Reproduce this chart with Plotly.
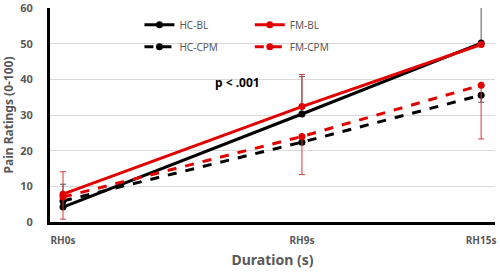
import plotly.graph_objects as go

categories = ["RH0s", "RH9s", "RH15s"]
x_pos = [0, 1, 1.75]  # horizontal placement of the three categories

hc_bl = [4.2, 30.3, 50.2]
fm_bl = [7.8, 32.4, 49.8]
hc_cpm = [5.9, 22.4, 35.6]
fm_cpm = [7.0, 24.0, 38.4]

hc_bl_plus = [6.4, 10.5, 15.0]
fm_bl_plus = [6.3, 9.0, 0.5]
hc_cpm_minus = [0.5, 0.5, 2.0]
fm_cpm_minus = [6.2, 10.7, 15.1]

y_ticks = [0, 10, 20, 30, 40, 50, 60]

BLACK = "#000000"
RED = "#e00000"
ERR_BLACK = "#555555"
ERR_RED = "#d23c3c"

fig = go.Figure()

def add(name, y, color, dash, legend, err_plus=None, err_minus=None, err_color=None):
    ey = None
    if err_plus is not None:
        ey = dict(type="data", symmetric=False, array=err_plus, arrayminus=[0] * len(y),
                  color=err_color, thickness=1, width=3)
    if err_minus is not None:
        ey = dict(type="data", symmetric=False, array=[0] * len(y), arrayminus=err_minus,
                  color=err_color, thickness=1, width=3)
    fig.add_trace(go.Scatter(
        x=x_pos, y=y, name=name, mode="lines+markers",
        line=dict(color=color, width=3, dash=dash),
        marker=dict(color=color, size=7, symbol="circle"),
        error_y=ey, legend=legend, legendgroup=name, cliponaxis=True,
    ))

add("HC-BL", hc_bl, BLACK, "solid", "legend", err_plus=hc_bl_plus, err_color=ERR_BLACK)
add("HC-CPM", hc_cpm, BLACK, "dash", "legend", err_minus=hc_cpm_minus, err_color=ERR_BLACK)
add("FM-BL", fm_bl, RED, "solid", "legend2", err_plus=fm_bl_plus, err_color=ERR_RED)
add("FM-CPM", fm_cpm, RED, "dash", "legend2", err_minus=fm_cpm_minus, err_color=ERR_RED)

FONT = "Noto Sans"
GRAY = "#595959"

legend_style = dict(
    bgcolor="rgba(0,0,0,0)", font=dict(family=FONT, size=10, color=GRAY),
    traceorder="grouped", tracegroupgap=3, yanchor="top", xanchor="left",
    itemwidth=30,
)

fig.update_layout(
    width=500, height=274,
    margin=dict(l=50, r=5, t=8, b=52),
    paper_bgcolor="white", plot_bgcolor="white",
    showlegend=True,
    legend=dict(x=0.201, y=0.99, **legend_style),
    legend2=dict(x=0.449, y=0.99, **legend_style),
    font=dict(family=FONT, color=GRAY),
    xaxis=dict(
        range=[-0.0544, 1.808], tickmode="array", tickvals=x_pos, ticktext=categories,
        showgrid=False, zeroline=False, showline=True, linecolor="black", linewidth=3,
        tickfont=dict(family=FONT, size=10, color=GRAY, weight="bold"),
        ticks="", ticklabelstandoff=7, automargin=False, ticklabeloverflow="allow",
        title=dict(text="Duration (s)", font=dict(family=FONT, size=14, color=GRAY, weight="bold"),
                   standoff=10),
    ),
    yaxis=dict(
        range=[0, 60.05], tickmode="array", tickvals=y_ticks,
        showgrid=True, gridcolor="#d9d9d9", gridwidth=1,
        zeroline=False, showline=True, linecolor="black", linewidth=3,
        tickfont=dict(family=FONT, size=11, color=GRAY, weight="bold"),
        ticks="", ticklabelstandoff=12, automargin=False, ticklabeloverflow="allow",
        title=dict(text="Pain Ratings (0-100)",
                   font=dict(family=FONT, size=12, color=GRAY, weight="bold"), standoff=5),
    ),
    annotations=[dict(
        x=0.73, y=39.2, xref="x", yref="y", text="<b>p < .001</b>", showarrow=False,
        font=dict(family=FONT, size=12, color="black"),
    )],
)

fig.write_html("out.html", config={"displayModeBar": False},
               post_script="document.body.style.margin='0';")
